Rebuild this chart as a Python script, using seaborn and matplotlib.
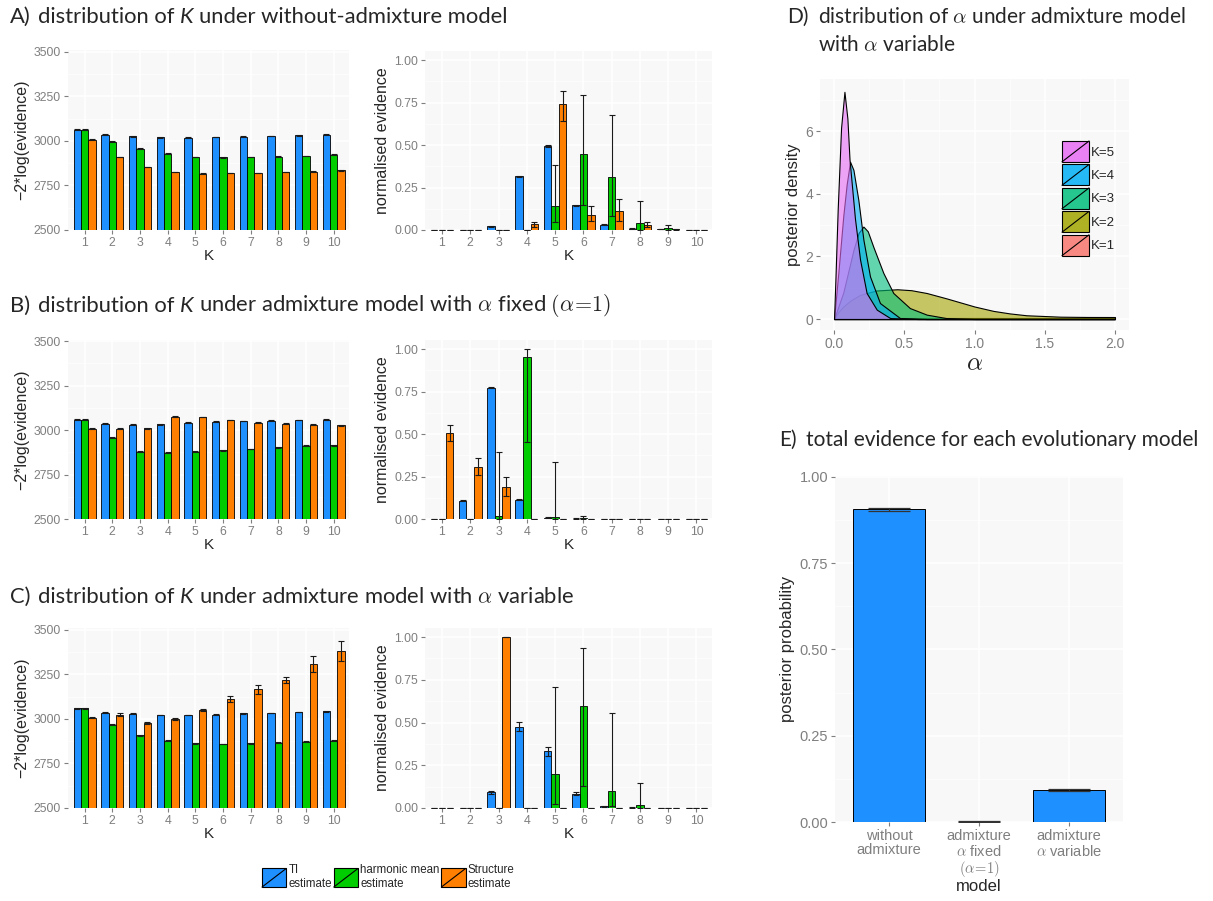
import numpy as np
import pandas as pd
import seaborn as sns
import matplotlib
matplotlib.use('Agg')
import matplotlib.pyplot as plt
from matplotlib.colors import to_rgba
from matplotlib.patches import Rectangle
from matplotlib.lines import Line2D
from matplotlib.legend_handler import HandlerBase
from matplotlib.ticker import MultipleLocator

sns.set_theme(style='white')
plt.rcParams['font.family'] = ['Liberation Sans', 'DejaVu Sans']
plt.rcParams['mathtext.fontset'] = 'cm'

# ---- data -------------------------------------------------------------
K = list(range(1, 11))
methods = ['TI\nestimate', 'harmonic mean\nestimate', 'Structure\nestimate']
method_colors = ['#1E90FF', '#00CD00', '#FF7F00']

# A) without admixture, -2*log(evidence)
a_ti = [3062, 3034, 3026, 3020, 3019, 3022, 3024, 3028, 3032, 3035]
a_hm = [3062, 2996, 2957, 2929, 2910, 2907, 2909, 2912, 2916, 2922]
a_st = [3007, 2910, 2854, 2825, 2817, 2821, 2821, 2825, 2828, 2834]
a_ti_err = [2, 2, 2, 2, 2, 2, 2, 2, 2, 2]
a_hm_err = [2, 2, 2, 2, 2, 2, 2, 2, 2, 2]
a_st_err = [1, 1, 1, 1, 1, 1, 1, 1, 1, 1]

# A) normalised evidence (value, lower, upper)
an_ti = [0, 0, 0.022, 0.315, 0.493, 0.145, 0.031, 0.008, 0.004, 0]
an_ti_lo = [0, 0, 0.020, 0.310, 0.488, 0.142, 0.029, 0.007, 0.003, 0]
an_ti_hi = [0, 0, 0.024, 0.320, 0.498, 0.148, 0.033, 0.009, 0.005, 0]
an_hm = [0, 0, 0, 0, 0.139, 0.446, 0.311, 0.041, 0.012, 0]
an_hm_lo = [0, 0, 0, 0, 0.045, 0.145, 0.084, 0, 0, 0]
an_hm_hi = [0, 0, 0, 0, 0.384, 0.795, 0.675, 0.168, 0.029, 0]
an_st = [0, 0, 0, 0.033, 0.740, 0.086, 0.114, 0.027, 0.004, 0]
an_st_lo = [0, 0, 0, 0.017, 0.642, 0.051, 0.053, 0.016, 0.001, 0]
an_st_hi = [0, 0, 0, 0.047, 0.818, 0.139, 0.180, 0.045, 0.007, 0]

# B) admixture, alpha fixed
b_ti = [3059, 3036, 3031, 3033, 3042, 3046, 3050, 3053, 3057, 3059]
b_hm = [3059, 2956, 2879, 2872, 2879, 2887, 2894, 2904, 2911, 2915]
b_st = [3008, 3008, 3010, 3076, 3074, 3057, 3042, 3035, 3031, 3027]
b_ti_err = [2, 2, 2, 2, 2, 2, 2, 2, 2, 2]
b_hm_err = [2, 3, 3, 3, 3, 3, 2, 3, 3, 3]
b_st_err = [1, 2, 2, 2, 2, 2, 2, 2, 2, 2]

bn_ti = [0, 0.108, 0.773, 0.112, 0.008, 0.002, 0, 0, 0, 0]
bn_ti_lo = [0, 0.105, 0.769, 0.109, 0.007, 0.001, 0, 0, 0, 0]
bn_ti_hi = [0, 0.111, 0.777, 0.115, 0.009, 0.003, 0, 0, 0, 0]
bn_hm = [0, 0, 0.020, 0.955, 0.014, 0.003, 0, 0, 0, 0]
bn_hm_lo = [0, 0, 0, 0.452, 0, 0, 0, 0, 0, 0]
bn_hm_hi = [0, 0, 0.393, 1.0, 0.337, 0.016, 0, 0, 0, 0]
bn_st = [0.507, 0.307, 0.186, 0, 0, 0, 0, 0, 0, 0]
bn_st_lo = [0.460, 0.260, 0.135, 0, 0, 0, 0, 0, 0, 0]
bn_st_hi = [0.554, 0.356, 0.249, 0, 0, 0, 0, 0, 0, 0]

# C) admixture, alpha variable
c_ti = [3059, 3036, 3029, 3023, 3023, 3025, 3031, 3034, 3040, 3044]
c_hm = [3059, 2967, 2909, 2879, 2863, 2860, 2864, 2866, 2872, 2879]
c_st = [3007, 3025, 2978, 3001, 3051, 3113, 3167, 3220, 3311, 3384]
c_ti_err = [2, 2, 2, 2, 2, 2, 2, 2, 2, 2]
c_hm_err = [2, 2, 2, 2, 2, 2, 2, 2, 2, 3]
c_st_err = [2, 11, 4, 4, 5, 15, 24, 16, 45, 56]

cn_ti = [0, 0, 0.092, 0.476, 0.331, 0.084, 0.010, 0.002, 0, 0]
cn_ti_lo = [0, 0, 0.083, 0.449, 0.306, 0.076, 0.008, 0.001, 0, 0]
cn_ti_hi = [0, 0, 0.101, 0.503, 0.356, 0.092, 0.012, 0.003, 0, 0]
cn_hm = [0, 0, 0, 0, 0.198, 0.598, 0.098, 0.020, 0, 0]
cn_hm_lo = [0, 0, 0, 0, 0.024, 0.127, 0.010, 0, 0, 0]
cn_hm_hi = [0, 0, 0, 0, 0.710, 0.937, 0.553, 0.147, 0, 0]
cn_st = [0, 0, 1.0, 0, 0, 0, 0, 0, 0, 0]
cn_st_lo = [0, 0, 0.998, 0, 0, 0, 0, 0, 0, 0]
cn_st_hi = [0, 0, 1.0, 0, 0, 0, 0, 0, 0, 0]

# D) posterior density of alpha
k_labels = ['K=1', 'K=2', 'K=3', 'K=4', 'K=5']
k_colors = ['#F8766D', '#A3A500', '#00BF7D', '#00B0F6', '#E76BF3']
alpha_k1 = [0, 2.0]
dens_k1 = [0.02, 0.02]
alpha_k2 = [0, 0.03, 0.066, 0.12, 0.185, 0.3, 0.45, 0.55, 0.66, 0.8, 0.9, 1.0, 1.134, 1.25, 1.37, 1.61, 1.8, 2.0]
dens_k2 = [0, 0.22, 0.4, 0.6, 0.77, 0.91, 0.95, 0.92, 0.83, 0.66, 0.53, 0.4, 0.26, 0.18, 0.12, 0.075, 0.066, 0.064]
alpha_k3 = [0, 0.066, 0.138, 0.175, 0.209, 0.24, 0.28, 0.351, 0.422, 0.54, 0.66, 0.8, 1.0, 2.0]
dens_k3 = [0, 0.85, 2.2, 2.75, 2.95, 2.8, 2.3, 1.47, 0.83, 0.35, 0.14, 0.03, 0.0, 0.0]
alpha_k4 = [0, 0.031, 0.066, 0.09, 0.114, 0.138, 0.173, 0.209, 0.256, 0.327, 0.47, 0.66, 2.0]
dens_k4 = [0, 1.5, 3.3, 4.3, 5.02, 4.76, 3.8, 2.53, 1.36, 0.51, 0.03, 0, 0]
alpha_k5 = [0, 0.01, 0.026, 0.05, 0.074, 0.095, 0.11, 0.149, 0.185, 0.232, 0.304, 0.4, 0.6, 2.0]
dens_k5 = [0, 1.3, 3.5, 6.1, 7.25, 6.4, 5.1, 3.2, 1.9, 0.83, 0.3, 0.03, 0, 0]

# E) total evidence per model
models = ['without\nadmixture', 'admixture\n$\\alpha$ fixed\n$(\\alpha\\!=\\!1)$', 'admixture\n$\\alpha$ variable']
model_prob = [0.905, 0.001, 0.093]
model_lo = [0.901, 0.0005, 0.089]
model_hi = [0.909, 0.0015, 0.097]

# ---- layout helpers ----------------------------------------------------
W, H = 1213, 901
fig = plt.figure(figsize=(W / 100, H / 100), dpi=100)
title_font = ['Lato', 'DejaVu Sans']
grey = '#7F7F7F'


def px_rect(x0, y0, x1, y1):
    return [x0 / W, 1 - y1 / H, (x1 - x0) / W, (y1 - y0) / H]


def style_ax(ax, labelsize):
    ax.set_facecolor('#F8F8F8')
    for s in ax.spines.values():
        s.set_visible(False)
    ax.set_axisbelow(True)
    ax.grid(True, which='major', color='white', lw=1.1)
    ax.grid(True, which='minor', color='white', lw=0.5)
    ax.tick_params(which='major', length=3, width=0.8, color=grey,
                   labelcolor=grey, labelsize=labelsize, pad=2,
                   left=True, bottom=True)
    ax.tick_params(which='minor', length=0)


class DiagHandler(HandlerBase):
    # ggplot style key: filled square with a diagonal line
    def create_artists(self, legend, orig_handle, xdescent, ydescent,
                       width, height, fontsize, trans):
        x0, y0 = -xdescent, -ydescent
        r = Rectangle((x0, y0), width, height,
                      facecolor=orig_handle.get_facecolor(),
                      edgecolor='black', lw=0.8, transform=trans)
        ln = Line2D([x0, x0 + width], [y0, y0 + height], color='black',
                    lw=0.8, transform=trans)
        return [r, ln]


def bar_panel(rect, vals, los, his, ylim, yticks, minor, ylabel, fmt):
    ax = fig.add_axes(px_rect(*rect))
    df = pd.DataFrame({'K': np.tile(K, 3),
                       'method': np.repeat(methods, len(K)),
                       'value': np.concatenate(vals)})
    sns.barplot(data=df, x='K', y='value', hue='method', hue_order=methods,
                palette=method_colors, saturation=1, width=0.8,
                errorbar=None, edgecolor='black', linewidth=0.6,
                legend=False, ax=ax)
    for cont, lo, hi in zip(ax.containers, los, his):
        xs = [b.get_x() + b.get_width() / 2 for b in cont]
        ys = np.array([b.get_height() for b in cont])
        ax.errorbar(xs, ys, yerr=[ys - np.array(lo), np.array(hi) - ys],
                    fmt='none', ecolor='#1a1a1a', elinewidth=0.8,
                    capsize=2, capthick=0.8)
    ax.set_xlim(-0.6, 9.55)
    ax.set_ylim(*ylim)
    ax.set_yticks(yticks)
    ax.set_yticklabels([fmt % v for v in yticks])
    ax.yaxis.set_minor_locator(MultipleLocator(minor))
    style_ax(ax, 8.8)
    ax.set_xlabel('K', fontsize=11, labelpad=0)
    ax.set_ylabel(ylabel, fontsize=11.5, labelpad=3)
    return ax


def log_panel(rect, ti, hm, st, e_ti, e_hm, e_st, top):
    vals = [ti, hm, st]
    errs = [e_ti, e_hm, e_st]
    los = [np.subtract(v, e) for v, e in zip(vals, errs)]
    his = [np.add(v, e) for v, e in zip(vals, errs)]
    return bar_panel(rect, vals, los, his, (2500, top),
                     [2500, 2750, 3000, 3250, 3500], 125,
                     '\u22122*log(evidence)', '%d')


def norm_panel(rect, vals, los, his):
    return bar_panel(rect, vals, los, his, (0, 1.053),
                     [0, 0.25, 0.5, 0.75, 1.0], 0.125,
                     'normalised evidence', '%.2f')


def rich_text(x, y, parts, size):
    # lay out plain / italic pieces one after another (pixel coords)
    r = fig.canvas.get_renderer()
    probe1 = fig.text(0, 0, 'x x', fontsize=size, family=title_font)
    probe2 = fig.text(0, 0, 'xx', fontsize=size, family=title_font)
    sp = probe1.get_window_extent(r).width - probe2.get_window_extent(r).width
    probe1.remove()
    probe2.remove()
    for s, style in parts:
        lead = len(s) - len(s.lstrip(' '))
        trail = len(s) - len(s.rstrip(' '))
        x += lead * sp
        t = fig.text(x / W, 1 - y / H, s.strip(' '), fontsize=size,
                     fontstyle=style, family=title_font, va='center',
                     ha='left')
        x += t.get_window_extent(r).width + trail * sp


# ---- panels A-C --------------------------------------------------------
log_panel((68, 50, 349, 230), a_ti, a_hm, a_st, a_ti_err, a_hm_err, a_st_err, 3510)
norm_panel((425, 51, 712, 230), [an_ti, an_hm, an_st],
           [an_ti_lo, an_hm_lo, an_st_lo], [an_ti_hi, an_hm_hi, an_st_hi])
log_panel((68, 340, 349, 519), b_ti, b_hm, b_st, b_ti_err, b_hm_err, b_st_err, 3506)
norm_panel((425, 340, 712, 519), [bn_ti, bn_hm, bn_st],
           [bn_ti_lo, bn_hm_lo, bn_st_lo], [bn_ti_hi, bn_hm_hi, bn_st_hi])
log_panel((68, 628, 349, 808), c_ti, c_hm, c_st, c_ti_err, c_hm_err, c_st_err, 3511)
norm_panel((425, 628, 712, 808), [cn_ti, cn_hm, cn_st],
           [cn_ti_lo, cn_hm_lo, cn_st_lo], [cn_ti_hi, cn_hm_hi, cn_st_hi])

# ---- panel D -----------------------------------------------------------
axd = fig.add_axes(px_rect(820, 79, 1129, 330))
d_alpha = [alpha_k1, alpha_k2, alpha_k3, alpha_k4, alpha_k5]
d_dens = [dens_k1, dens_k2, dens_k3, dens_k4, dens_k5]
for a, d, c in zip(d_alpha, d_dens, k_colors):
    axd.fill_between(a, d, 0, facecolor=to_rgba(c, 0.6), edgecolor='black',
                     lw=0.8)
axd.set_xlim(-0.1, 2.1)
axd.set_ylim(-0.35, 7.66)
axd.set_xticks([0, 0.5, 1.0, 1.5, 2.0])
axd.set_xticklabels(['0.0', '0.5', '1.0', '1.5', '2.0'])
axd.set_yticks([0, 2, 4, 6])
axd.xaxis.set_minor_locator(MultipleLocator(0.25))
axd.yaxis.set_minor_locator(MultipleLocator(1))
style_ax(axd, 10)
axd.set_xlabel('$\\alpha$', fontsize=18, labelpad=0)
axd.set_ylabel('posterior density', fontsize=12, labelpad=3)
d_handles = [Rectangle((0, 0), 1, 1, facecolor=to_rgba(c, 0.85))
             for c in k_colors][::-1]
axd.legend(d_handles, k_labels[::-1], loc='upper left',
           bbox_to_anchor=(1062 / W, 1 - 141 / H),
           bbox_transform=fig.transFigure, frameon=False, fontsize=9.5,
           handler_map={Rectangle: DiagHandler()}, handlelength=2.05,
           handleheight=2.05, labelspacing=0.2, handletextpad=0.15,
           borderpad=0, borderaxespad=0)

# ---- panel E -----------------------------------------------------------
axe = fig.add_axes(px_rect(835, 476, 1123, 822))
sns.barplot(x=models, y=model_prob, color='#1E90FF', saturation=1, width=0.8,
            edgecolor='black', linewidth=0.7, ax=axe)
bars = axe.containers[0]
xs = [b.get_x() + b.get_width() / 2 for b in bars]
ys = np.array([b.get_height() for b in bars])
axe.errorbar(xs, ys, yerr=[ys - np.array(model_lo), np.array(model_hi) - ys],
             fmt='none', ecolor='#333333', elinewidth=0.9, capsize=15,
             capthick=0.9)
axe.set_xlim(-0.6, 2.6)
axe.set_ylim(0, 1.002)
axe.set_yticks([0, 0.25, 0.5, 0.75, 1.0])
axe.set_yticklabels(['0.00', '0.25', '0.50', '0.75', '1.00'])
axe.yaxis.set_minor_locator(MultipleLocator(0.125))
style_ax(axe, 10.5)
for lab in axe.get_xticklabels():
    lab.set_linespacing(1.05)
axe.set_xlabel('model', fontsize=12, labelpad=0)
axe.set_ylabel('posterior probability', fontsize=12, labelpad=3)

# ---- bottom legend -----------------------------------------------------
m_handles = [Rectangle((0, 0), 1, 1, facecolor=c) for c in method_colors]
fig.legend(m_handles, methods, loc='upper left',
           bbox_to_anchor=(262 / W, 1 - 864 / H), ncol=3, frameon=False,
           fontsize=8.3, handler_map={Rectangle: DiagHandler()},
           handlelength=2.1, handleheight=2.1, columnspacing=0.15,
           handletextpad=0.2, borderpad=0, borderaxespad=0)

# ---- titles ------------------------------------------------------------
ts = 15.8
for lab, (x, y) in {'A)': (10, 17), 'B)': (10, 306), 'C)': (10, 597)}.items():
    fig.text(x / W, 1 - y / H, lab, fontsize=ts, family=title_font,
             va='center', ha='left')
rich_text(38, 17, [('distribution of ', 'normal'), ('K', 'italic'),
                   (' under without-admixture model', 'normal')], ts)
rich_text(38, 306, [('distribution of ', 'normal'), ('K', 'italic'),
                    (' under admixture model with $\\alpha$ fixed $(\\alpha\\!=\\!1)$', 'normal')], ts)
rich_text(38, 597, [('distribution of ', 'normal'), ('K', 'italic'),
                    (' under admixture model with $\\alpha$ variable', 'normal')], ts)

ts2 = 15
for lab, (x, y) in {'D)': (787, 17), 'E)': (779, 440)}.items():
    fig.text(x / W, 1 - y / H, lab, fontsize=ts2, family=title_font,
             va='center', ha='left')
rich_text(818, 17, [('distribution of $\\alpha$ under admixture model', 'normal')], ts2)
rich_text(818, 45, [('with $\\alpha$ variable', 'normal')], ts2)
rich_text(806, 440, [('total evidence for each evolutionary model', 'normal')], ts2)

fig.savefig('out.png', dpi=100)
